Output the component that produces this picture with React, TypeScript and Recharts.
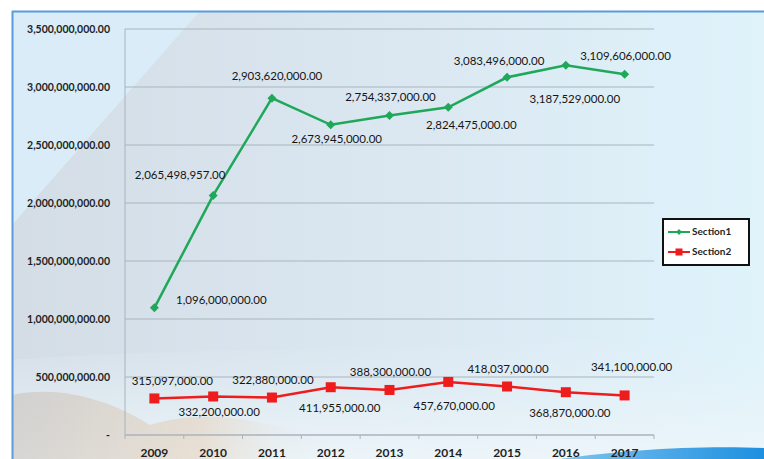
import { LineChart, Line, XAxis, YAxis, CartesianGrid, LabelList } from 'recharts';

// --- Data ---
const years = ['2009', '2010', '2011', '2012', '2013', '2014', '2015', '2016', '2017'];
const section1 = [1096000000, 2065498957, 2903620000, 2673945000, 2754337000, 2824475000, 3083496000, 3187529000, 3109606000];
const section2 = [315097000, 332200000, 322880000, 411955000, 388300000, 457670000, 418037000, 368870000, 341100000];
const yTicks = [0, 500000000, 1000000000, 1500000000, 2000000000, 2500000000, 3000000000, 3500000000];

const data = years.map((year, i) => ({ year, section1: section1[i], section2: section2[i] }));

// --- Layout ---
const W = 764;
const H = 459;
const MARGIN = { top: 29, right: 110, bottom: 0, left: 0 };
const Y_AXIS_W = 125;
const X_AXIS_H = 24;
const PLOT_W = W - MARGIN.left - MARGIN.right - Y_AXIS_W;
const BAND = PLOT_W / years.length;

const GREEN = '#1fa85a';
const RED = '#ee1c1c';
const FONT = 'Lato, "Open Sans", sans-serif';

// label offsets from the point (excel-style manual placement)
const s1Offsets: [number, number][] = [[67, -7], [-33, -19], [5, -21], [6, 15], [1, -17], [23, 19], [-8, -15], [9, 35], [1, -17]];
const s2Offsets: [number, number][] = [[18, -16], [6, 17], [1, -16], [9, 22], [1, -17], [6, 25], [1, -16], [4, 22], [7, -27]];

const fmt = (v: number) => (v === 0 ? '-' : v.toLocaleString('en-US', { minimumFractionDigits: 2, maximumFractionDigits: 2 }));

function makeLabel(offsets: [number, number][]) {
    return (props: any) => {
        const { x, y, value, index } = props;
        const [dx, dy] = offsets[index];
        return (
            <text x={x + dx} y={y + dy} textAnchor="middle" fontSize={11.5} fontFamily={FONT} fill="#151515" dominantBaseline="middle">
                {fmt(value)}
            </text>
        );
    };
}

function Diamond(props: any) {
    const { cx, cy } = props;
    const r = 4.5;
    return <path d={`M${cx},${cy - r}L${cx + r},${cy}L${cx},${cy + r}L${cx - r},${cy}Z`} fill={GREEN} />;
}

function Square(props: any) {
    const { cx, cy } = props;
    return <rect x={cx - 5} y={cy - 5} width={10} height={10} fill={RED} />;
}

function XTick(props: any) {
    const { x, y, payload, index } = props;
    const left = x - BAND / 2;
    return (
        <g>
            <line x1={left} y1={y} x2={left} y2={y + 4} stroke="#a9b3bb" />
            {index === years.length - 1 && <line x1={x + BAND / 2} y1={y} x2={x + BAND / 2} y2={y + 4} stroke="#a9b3bb" />}
            <text x={x} y={y + 22} textAnchor="middle" fontSize={12} fontWeight={700} fontFamily={FONT} fill="#1f1f1f">
                {payload.value}
            </text>
        </g>
    );
}

function Background() {
    return (
        <svg width={W} height={H} style={{ position: 'absolute', left: 0, top: 0 }}>
            <defs>
                <linearGradient id="bgBase" x1="0" y1="0" x2="1" y2="0">
                    <stop offset="0%" stopColor="#d4dde6" />
                    <stop offset="55%" stopColor="#dbe8f2" />
                    <stop offset="100%" stopColor="#dff3fb" />
                </linearGradient>
                <linearGradient id="bgBottom" x1="0" y1="0" x2="0" y2="1">
                    <stop offset="0%" stopColor="#e6f1f7" stopOpacity={0} />
                    <stop offset="100%" stopColor="#eef6fa" stopOpacity={0.9} />
                </linearGradient>
                <linearGradient id="sand" x1="0" y1="0" x2="1" y2="0">
                    <stop offset="0%" stopColor="#c9c2bb" />
                    <stop offset="60%" stopColor="#e7d3bd" />
                    <stop offset="100%" stopColor="#e7eef2" stopOpacity={0} />
                </linearGradient>
                <linearGradient id="wave" x1="0" y1="0" x2="1" y2="0">
                    <stop offset="0%" stopColor="#7fc4ee" />
                    <stop offset="100%" stopColor="#1d8fe0" />
                </linearGradient>
            </defs>
            <rect x={0} y={0} width={W} height={H} fill="#ffffff" />
            <rect x={12} y={11} width={W - 12} height={H - 11} fill="url(#bgBase)" />
            <polygon points="12,11 200,11 12,225" fill="#d9ecf7" />
            <path d={`M12,360 C200,345 500,352 ${W},330 L${W},${H} L12,${H} Z`} fill="url(#bgBottom)" />
            <path d="M12,395 C60,385 110,400 150,425 C200,410 260,415 330,445 L330,459 L12,459 Z" fill="url(#sand)" opacity={0.6} />
            <path d={`M560,459 C620,450 700,445 ${W},448 L${W},${H} Z`} fill="url(#wave)" />
            <line x1={12} y1={11.5} x2={W} y2={11.5} stroke="#5b9bdc" strokeWidth={2} />
            <line x1={12.5} y1={11} x2={12.5} y2={H} stroke="#5b9bdc" strokeWidth={2} />
        </svg>
    );
}

function Legend() {
    const row = (label: string, color: string, marker: 'diamond' | 'square', y: number) => (
        <g>
            <line x1={6} y1={y} x2={28} y2={y} stroke={color} strokeWidth={2} />
            {marker === 'diamond'
                ? <path d={`M17,${y - 3}L20,${y}L17,${y + 3}L14,${y}Z`} fill={color} />
                : <rect x={13.5} y={y - 3.5} width={7} height={7} fill={color} />}
            <text x={30} y={y} dominantBaseline="middle" fontSize={10} fontWeight={700} fontFamily={FONT} fill="#1f1f1f">
                {label}
            </text>
        </g>
    );
    return (
        <svg width={88} height={48} style={{ position: 'absolute', left: 662, top: 218 }}>
            <rect x={1} y={1} width={86} height={46} fill="#ffffff" stroke="#111" strokeWidth={2} />
            {row('Section1', GREEN, 'diamond', 14)}
            {row('Section2', RED, 'square', 34)}
        </svg>
    );
}

export default function App() {
    return (
        <div style={{ position: 'relative', width: W, height: H, overflow: 'hidden' }}>
            <style>{'body{margin:0}'}</style>
            <Background />
            <div style={{ position: 'absolute', left: 0, top: 0 }}>
                <LineChart width={W} height={H} data={data} margin={MARGIN}>
                    <CartesianGrid vertical={false} stroke="#aab4bd" strokeWidth={1} />
                    <XAxis
                        dataKey="year"
                        scale="band"
                        height={X_AXIS_H}
                        stroke="#a9b3bb"
                        tickLine={false}
                        tickSize={0}
                        tickMargin={0}
                        tick={<XTick />}
                        interval={0}
                    />
                    <YAxis
                        width={Y_AXIS_W}
                        domain={[0, 3500000000]}
                        ticks={yTicks}
                        stroke="#a9b3bb"
                        tickLine={false}
                        tickSize={13}
                        tickMargin={2}
                        tickFormatter={fmt}
                        tick={{ fontSize: 10.5, fontWeight: 700, fontFamily: FONT, fill: '#1f1f1f' }}
                        interval={0}
                    />
                    <Line
                        dataKey="section1"
                        stroke={GREEN}
                        strokeWidth={2.5}
                        dot={<Diamond />}
                        isAnimationActive={false}
                    >
                        <LabelList dataKey="section1" content={makeLabel(s1Offsets)} />
                    </Line>
                    <Line
                        dataKey="section2"
                        stroke={RED}
                        strokeWidth={2.5}
                        dot={<Square />}
                        isAnimationActive={false}
                    >
                        <LabelList dataKey="section2" content={makeLabel(s2Offsets)} />
                    </Line>
                </LineChart>
            </div>
            <Legend />
        </div>
    );
}
